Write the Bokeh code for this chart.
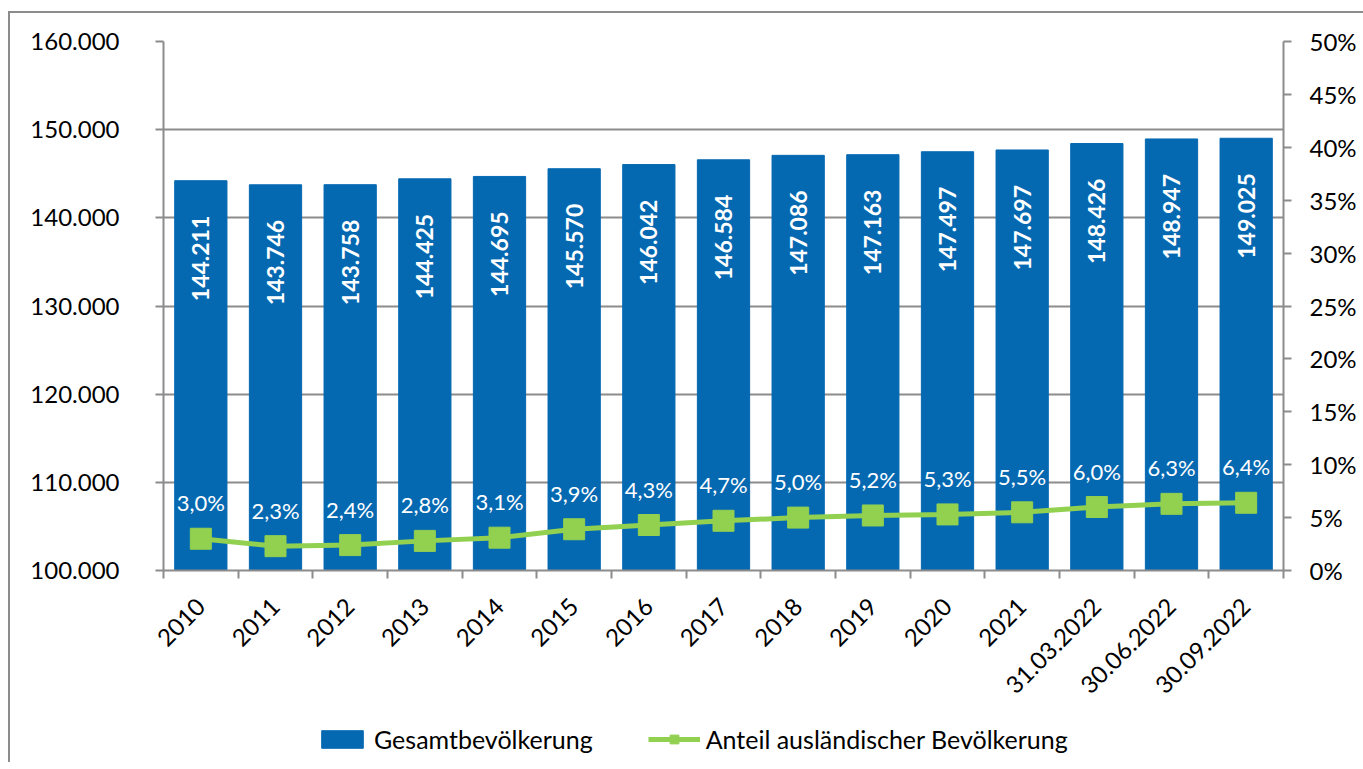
import math
from bokeh.plotting import figure
from bokeh.layouts import column
from bokeh.models import (Range1d, LinearAxis, FixedTicker, CustomJSTickFormatter,
                          Legend, LegendItem, ColumnDataSource)
from bokeh.core.properties import value
from bokeh.embed import file_html
from bokeh.resources import INLINE

categories = ["2010", "2011", "2012", "2013", "2014", "2015", "2016", "2017", "2018",
              "2019", "2020", "2021", "31.03.2022", "30.06.2022", "30.09.2022"]
population = [144211, 143746, 143758, 144425, 144695, 145570, 146042, 146584, 147086,
              147163, 147497, 147697, 148426, 148947, 149025]
foreign_share = [3.0, 2.3, 2.4, 2.8, 3.1, 3.9, 4.3, 4.7, 5.0, 5.2, 5.3, 5.5, 6.0, 6.3, 6.4]
left_ticks = [100000, 110000, 120000, 130000, 140000, 150000, 160000]
right_ticks = [0, 5, 10, 15, 20, 25, 30, 35, 40, 45, 50]
series_names = ["Gesamtbevölkerung", "Anteil ausländischer Bevölkerung"]

FONT = "Lato"
BLUE = "#0569b2"
GREEN = "#92d050"
GRAY = "#8c8c8c"

xs = list(range(len(categories)))
src = ColumnDataSource(dict(
    x=xs,
    pop=population,
    pct=foreign_share,
    pop_lbl=[f"{v:,}".replace(",", ".") for v in population],
    pct_lbl=[f"{v:.1f}".replace(".", ",") + "%" for v in foreign_share],
))

p = figure(frame_width=1118, frame_height=527, output_backend="svg", toolbar_location=None,
           x_range=Range1d(-0.5, len(categories) - 0.5),
           y_range=Range1d(left_ticks[0], left_ticks[-1]),
           min_border_left=153, min_border_right=82, min_border_top=28,
           min_border_bottom=0)
p.margin = (11, 0, 0, 8)
p.styles = {"border-left": f"2px solid {GRAY}", "border-top": f"2px solid {GRAY}"}
p.outline_line_color = None
p.background_fill_color = "white"
p.border_fill_color = "white"

p.extra_y_ranges = {"pct": Range1d(right_ticks[0], right_ticks[-1])}

bars = p.vbar(x="x", top="pop", bottom=left_ticks[0], width=0.7, source=src,
              fill_color=BLUE, line_color=BLUE)
line = p.line(x="x", y="pct", y_range_name="pct", source=src, line_color=GREEN,
              line_width=5)
marks = p.scatter(x="x", y="pct", y_range_name="pct", source=src, marker="square",
                  size=21, fill_color=GREEN, line_color=GREEN)

p.text(x="x", y="pop", text="pop_lbl", source=src, angle=math.pi / 2,
       text_align="right", text_baseline="middle", y_offset=35,
       text_color="white", text_font=value(FONT), text_font_style="bold",
       text_font_size="23px")
p.text(x="x", y="pct", text="pct_lbl", source=src, y_range_name="pct",
       text_align="center", text_baseline="middle", y_offset=-36,
       text_color="white", text_font=value(FONT), text_font_size="22px")

# x axis
xa = p.xaxis[0]
xa.ticker = FixedTicker(ticks=xs, minor_ticks=[i - 0.5 for i in range(len(categories) + 1)])
xa.major_label_overrides = {i: c for i, c in enumerate(categories)}
xa.major_tick_line_color = None
xa.minor_tick_in = 0
xa.minor_tick_out = 8
xa.minor_tick_line_color = GRAY
xa.minor_tick_line_width = 2
xa.axis_line_color = GRAY
xa.axis_line_width = 2
xa.major_label_orientation = math.pi / 4
xa.major_label_standoff = 24
xa.major_label_text_font = FONT
xa.major_label_text_font_size = "24px"
xa.major_label_text_color = "black"

# left axis
ya = p.yaxis[0]
ya.ticker = FixedTicker(ticks=left_ticks)
ya.formatter = CustomJSTickFormatter(code="return (tick/1000).toFixed(3);")
ya.major_tick_in = 0
ya.major_tick_out = 8
ya.major_tick_line_color = GRAY
ya.major_tick_line_width = 2
ya.minor_tick_line_color = None
ya.axis_line_color = GRAY
ya.axis_line_width = 2
ya.major_label_standoff = 36
ya.major_label_text_font = FONT
ya.major_label_text_font_size = "24px"
ya.major_label_text_color = "black"

# right axis
ra = LinearAxis(y_range_name="pct", ticker=FixedTicker(ticks=right_ticks),
                formatter=CustomJSTickFormatter(code="return tick.toFixed(0) + '%';"))
ra.major_tick_in = 0
ra.major_tick_out = 8
ra.major_tick_line_color = GRAY
ra.major_tick_line_width = 2
ra.minor_tick_line_color = None
ra.axis_line_color = GRAY
ra.axis_line_width = 2
ra.major_label_standoff = 18
ra.major_label_text_font = FONT
ra.major_label_text_font_size = "24px"
ra.major_label_text_color = "black"
p.add_layout(ra, "right")

p.xgrid.grid_line_color = None
p.ygrid.grid_line_color = GRAY
p.ygrid.grid_line_width = 2
p.ygrid.ticker = FixedTicker(ticks=left_ticks)

# legend strip below the chart; its renderers share the chart's data and styling,
# the strip's x range keeps them out of view so only the legend shows
n = len(categories)
lg = figure(frame_width=1353, frame_height=60, output_backend="svg", toolbar_location=None,
            x_range=Range1d(-3 * n, -2 * n),
            y_range=Range1d(left_ticks[0], left_ticks[-1]),
            min_border_left=0, min_border_right=0, min_border_top=0, min_border_bottom=0,
            x_axis_location=None, y_axis_location=None)
lg.extra_y_ranges = {"pct": Range1d(right_ticks[0], right_ticks[-1])}
lg.margin = (0, 0, 0, 8)
lg.styles = {"border-left": f"2px solid {GRAY}"}
lg.outline_line_color = None
lg.grid.grid_line_color = None
lg.background_fill_color = "white"
lg.border_fill_color = "white"
lbar = lg.vbar(x="x", top="pop", bottom=left_ticks[0], width=0.7, source=src,
               fill_color=BLUE, line_color=BLUE)
lline = lg.line(x="x", y="pct", y_range_name="pct", source=src, line_color=GREEN,
                line_width=5)
lmark = lg.scatter(x="x", y="pct", y_range_name="pct", source=src, marker="square",
                   size=21, fill_color=GREEN, line_color=GREEN)

legend = Legend(items=[
    LegendItem(label=series_names[0], renderers=[lbar]),
    LegendItem(label=series_names[1], renderers=[lline, lmark]),
], orientation="horizontal", location=(306, 8))
legend.border_line_color = None
legend.background_fill_alpha = 0
legend.label_text_font = FONT
legend.label_text_font_size = "25px"
legend.label_text_color = "black"
legend.glyph_width = 52
legend.glyph_height = 22
legend.label_standoff = 6
legend.spacing = 55
legend.margin = 0
legend.padding = 4
lg.add_layout(legend, "center")

layout = column(p, lg, spacing=0)
open("out.html", "w").write(file_html(layout, INLINE))
